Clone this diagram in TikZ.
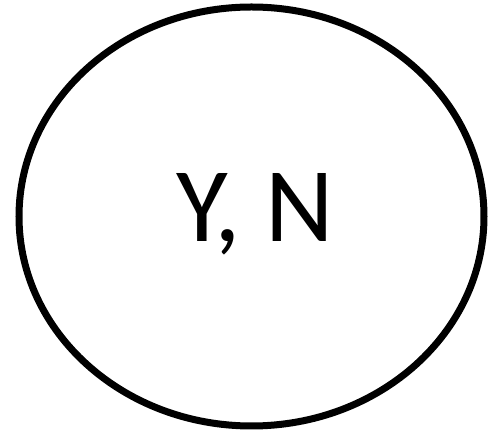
\documentclass[tikz,border=0pt]{standalone}
\usepackage{fontspec}
\setmainfont{Carlito}
\usetikzlibrary{shapes.geometric}
\begin{document}
\begin{tikzpicture}[x=1pt,y=1pt,
  statebox/.style={draw=black, line width=7pt, ellipse, minimum width=465pt, minimum height=419pt, inner sep=0pt},
  labeltext/.style={font=\fontsize{106}{120}\selectfont, inner sep=0pt, anchor=base}]
\useasboundingbox (0,0) rectangle (488,431);
\node[statebox] (s) at (251.5,214.5) {};
\node[labeltext] (t) at (255,189) {Y, N};
\end{tikzpicture}
\end{document}
